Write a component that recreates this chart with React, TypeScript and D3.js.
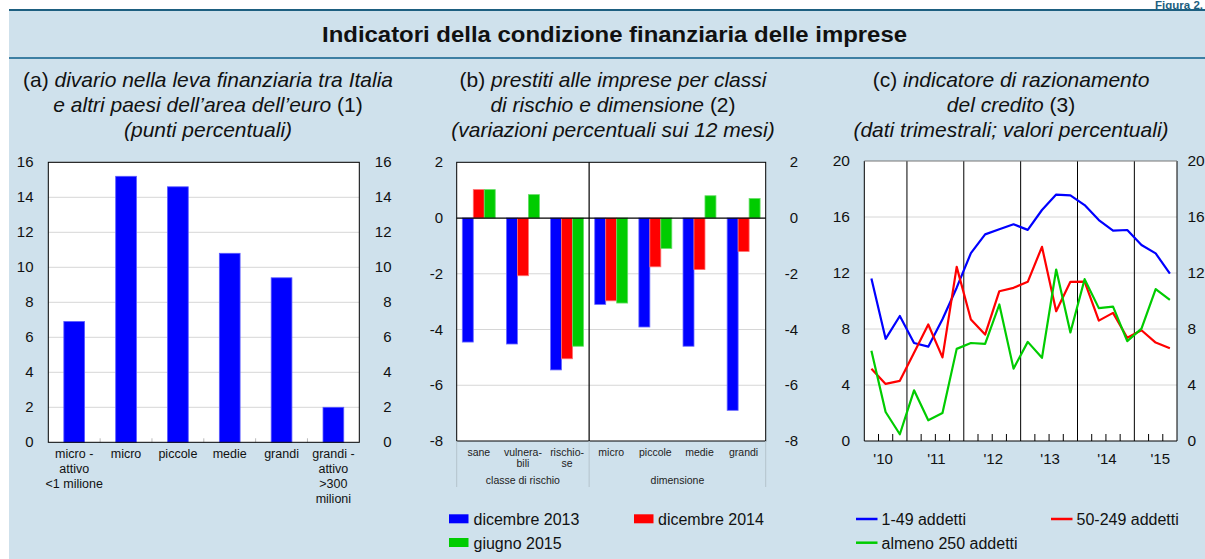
import React from 'react';
import * as d3 from 'd3';

const W = 1205;
const H = 559;
const BG = '#cfe1ec';
const FONT = '"Liberation Sans", Arial, Helvetica, sans-serif';
const BLUE = '#0000ff';
const RED = '#ff0000';
const GREEN = '#00cc00';
const GRID = '#d6d6d6';

// ---------- Panel (a) ----------
const catsA = [
  ['micro -', 'attivo', '<1 milione'],
  ['micro'],
  ['piccole'],
  ['medie'],
  ['grandi'],
  ['grandi -', 'attivo', '>300', 'milioni'],
];
const valuesA = [6.9, 15.2, 14.6, 10.8, 9.4, 2.0];
const ticksA = [0, 2, 4, 6, 8, 10, 12, 14, 16];

// ---------- Panel (b) ----------
const catsB = [['sane'], ['vulnera-', 'bili'], ['rischio-', 'se'], ['micro'], ['piccole'], ['medie'], ['grandi']];
const groupNamesB = ['classe di rischio', 'dimensione'];
const groupSizesB = [3, 4];
const seriesNamesB = ['dicembre 2013', 'dicembre 2014', 'giugno 2015'];
const dic2013 = [-4.45, -4.52, -5.45, -3.1, -3.91, -4.6, -6.9];
const dic2014 = [1.02, -2.07, -5.05, -2.97, -1.75, -1.85, -1.2];
const giu2015 = [1.02, 0.84, -4.6, -3.05, -1.09, 0.8, 0.7];
const ticksB = [2, 0, -2, -4, -6, -8];

// ---------- Panel (c) ----------
const quartersC = [
  '2010Q2', '2010Q3', '2010Q4',
  '2011Q1', '2011Q2', '2011Q3', '2011Q4',
  '2012Q1', '2012Q2', '2012Q3', '2012Q4',
  '2013Q1', '2013Q2', '2013Q3', '2013Q4',
  '2014Q1', '2014Q2', '2014Q3', '2014Q4',
  '2015Q1', '2015Q2', '2015Q3',
];
const addetti1_49 = [11.6, 7.3, 8.93, 7.0, 6.74, 8.7, 10.95, 13.42, 14.76, 15.12, 15.48, 15.08, 16.5, 17.6, 17.55, 16.85, 15.78, 15.03, 15.07, 14.0, 13.4, 11.95];
const addetti50_249 = [5.16, 4.08, 4.3, 6.3, 8.32, 5.97, 12.44, 8.68, 7.6, 10.7, 10.94, 11.37, 13.87, 9.27, 11.37, 11.39, 8.6, 9.15, 7.37, 7.91, 7.03, 6.63];
const almeno250 = [6.44, 2.07, 0.48, 3.62, 1.48, 2.0, 6.58, 7.0, 6.94, 9.75, 5.17, 7.08, 5.94, 12.25, 7.75, 11.56, 9.49, 9.6, 7.13, 8.03, 10.85, 10.08];
const seriesNamesC = ['1-49 addetti', '50-249 addetti', 'almeno 250 addetti'];
const yearsC = [2010, 2011, 2012, 2013, 2014, 2015];
const yearLabelsC = ["'10", "'11", "'12", "'13", "'14", "'15"];
const ticksC = [0, 4, 8, 12, 16, 20];

function qToNum(q: string) {
  const y = +q.slice(0, 4);
  const n = +q.slice(5);
  return y + (n - 1) * 0.25;
}

export default function App() {
  // Panel a scales
  const xA = d3.scaleBand<number>().domain(d3.range(catsA.length)).range([48.3, 359.3]).paddingInner(0.6).paddingOuter(0.3);
  const yA = d3.scaleLinear().domain([0, 16]).range([442.3, 162.3]);

  // Panel b scales
  const xB = d3.scaleBand<number>().domain(d3.range(catsB.length)).range([456.7, 765.7]).padding(0);
  const xBin = d3.scaleBand<number>().domain([0, 1, 2]).range([5.6, xB.bandwidth() - 5.6]).padding(0);
  const yB = d3.scaleLinear().domain([-8, 2]).range([441, 162.3]);
  const seriesB = [dic2013, dic2014, giu2015];
  const colorsB = [BLUE, RED, GREEN];

  // Panel c scales
  const qStart = qToNum(quartersC[0]);
  const qEnd = qToNum(quartersC[quartersC.length - 1]) + 0.25;
  const xC = d3.scaleLinear().domain([qStart, qEnd]).range([864.3, 1177]);
  const yC = d3.scaleLinear().domain([0, 20]).range([441, 161]);
  const seriesC = [addetti1_49, addetti50_249, almeno250];
  const colorsC = [BLUE, RED, GREEN];
  const lineGen = d3
    .line<number>()
    .x((_, i) => xC(qToNum(quartersC[i]) + 0.125))
    .y((d) => yC(d));
  const quarterTicks = d3.range(qStart + 0.25, qEnd - 0.01, 0.25).filter((t) => Math.abs(t - Math.round(t)) > 0.01);
  const yearLines = yearsC.filter((y) => y > qStart && y < qEnd);

  // group boundaries in panel b
  const groupBounds: number[] = [];
  let acc = 0;
  groupSizesB.forEach((s) => {
    groupBounds.push(acc);
    acc += s;
  });

  return (
    <svg width={W} height={H} style={{ position: 'absolute', left: 0, top: 0, display: 'block' }} fontFamily={FONT}>
      <rect x={0} y={0} width={W} height={H} fill="#ffffff" />
      {/* Header */}
      <text x={1203} y={8.5} textAnchor="end" fontSize={11.5} fontWeight="bold" fill="#1d5f80">Figura 2.</text>
      <rect x={9} y={9} width={W - 9} height={2} fill="#1d5f80" />
      <rect x={9} y={11} width={W - 9} height={46} fill={BG} />
      <rect x={9} y={57} width={W - 9} height={2} fill="#3d7fa3" />
      <rect x={9} y={59} width={W - 9} height={H - 59} fill={BG} />
      <text x={614.5} y={42} textAnchor="middle" fontSize={22} fontWeight="bold" fill="#111" textLength={585} lengthAdjust="spacingAndGlyphs">
        Indicatori della condizione finanziaria delle imprese
      </text>

      {/* Subtitles */}
      <g fontSize={21} fill="#111" textAnchor="middle">
        <text x={208} y={87}>
          (a) <tspan fontStyle="italic">divario nella leva finanziaria tra Italia</tspan>
        </text>
        <text x={208} y={112}>
          <tspan fontStyle="italic">e altri paesi dell’area dell’euro</tspan> (1)
        </text>
        <text x={208} y={137} fontStyle="italic">(punti percentuali)</text>

        <text x={613} y={87}>
          (b) <tspan fontStyle="italic">prestiti alle imprese per classi</tspan>
        </text>
        <text x={613} y={112}>
          <tspan fontStyle="italic">di rischio e dimensione</tspan> (2)
        </text>
        <text x={613} y={137} fontStyle="italic">(variazioni percentuali sui 12 mesi)</text>

        <text x={1011} y={87}>
          (c) <tspan fontStyle="italic">indicatore di razionamento</tspan>
        </text>
        <text x={1011} y={112}>
          <tspan fontStyle="italic">del credito</tspan> (3)
        </text>
        <text x={1011} y={137} fontStyle="italic">(dati trimestrali; valori percentuali)</text>
      </g>

      {/* ---------- Panel a ---------- */}
      <g>
        <rect x={48.3} y={162.3} width={311} height={280} fill="#fff" />
        {ticksA.filter((t) => t > 0).map((t) => (
          <line key={t} x1={48.3} x2={359.3} y1={yA(t)} y2={yA(t)} stroke={GRID} strokeWidth={1} />
        ))}
        {valuesA.map((v, i) => (
          <rect key={i} x={xA(i)!} y={yA(v)} width={xA.bandwidth()} height={yA(0) - yA(v)} fill={BLUE} stroke="#5a5aff" strokeWidth={0.8} />
        ))}
        {d3.range(1, catsA.length).map((i) => {
          const x = xA(i)! - (xA.step() - xA.bandwidth()) / 2;
          return <line key={i} x1={x} x2={x} y1={yA(0)} y2={yA(0) - 4} stroke="#bbb" />;
        })}
        <rect x={48.3} y={162.3} width={311} height={280} fill="none" stroke="#000" strokeWidth={1} />
        <g fontSize={15} fill="#111">
          {ticksA.map((t) => (
            <text key={'l' + t} x={33.5} y={yA(t) + 5} textAnchor="end">{t}</text>
          ))}
          {ticksA.map((t) => (
            <text key={'r' + t} x={391.5} y={yA(t) + 5} textAnchor="end">{t}</text>
          ))}
        </g>
        <g fontSize={12.5} fill="#111" textAnchor="middle">
          {catsA.map((lines, i) => (
            <text key={i} x={xA(i)! + xA.bandwidth() / 2} y={458}>
              {lines.map((ln, j) => (
                <tspan key={j} x={xA(i)! + xA.bandwidth() / 2} dy={j === 0 ? 0 : 15}>{ln}</tspan>
              ))}
            </text>
          ))}
        </g>
      </g>

      {/* ---------- Panel b ---------- */}
      <g>
        <rect x={456.7} y={162.3} width={309} height={278.7} fill="#fff" />
        {ticksB.filter((t) => t !== 0 && t !== 2 && t !== -8).map((t) => (
          <line key={t} x1={456.7} x2={765.7} y1={yB(t)} y2={yB(t)} stroke={GRID} />
        ))}
        {seriesB.map((vals, s) =>
          vals.map((v, i) => (
            <rect
              key={s + '-' + i}
              x={xB(i)! + xBin(s)!}
              y={yB(Math.max(0, v))}
              width={xBin.bandwidth()}
              height={Math.abs(yB(v) - yB(0))}
              fill={colorsB[s]}
              stroke={s === 0 ? '#6a6aff' : s === 1 ? '#ff7070' : '#66dd66'}
              strokeWidth={0.8}
            />
          ))
        )}
        <line x1={456.7} x2={765.7} y1={yB(0)} y2={yB(0)} stroke="#000" strokeWidth={1.2} />
        {groupBounds.slice(1).map((g) => (
          <line key={g} x1={xB(g)!} x2={xB(g)!} y1={162.3} y2={441} stroke="#000" strokeWidth={1.2} />
        ))}
        <rect x={456.7} y={162.3} width={309} height={278.7} fill="none" stroke="#000" strokeWidth={1} />
        {[...groupBounds, catsB.length].map((g) => {
          const x = g < catsB.length ? xB(g)! : 765.7;
          return <line key={'s' + g} x1={x} x2={x} y1={441} y2={487} stroke="#b4c3cc" />;
        })}
        <g fontSize={15} fill="#111">
          {ticksB.map((t) => (
            <text key={'l' + t} x={443} y={yB(t) + 5} textAnchor="end">{t}</text>
          ))}
          {ticksB.map((t) => (
            <text key={'r' + t} x={798} y={yB(t) + 5} textAnchor="end">{t}</text>
          ))}
        </g>
        <g fontSize={10.5} fill="#222" textAnchor="middle">
          {catsB.map((lines, i) => (
            <text key={i} x={xB(i)! + xB.bandwidth() / 2} y={455.5}>
              {lines.map((ln, j) => (
                <tspan key={j} x={xB(i)! + xB.bandwidth() / 2} dy={j === 0 ? 0 : 11.6}>{ln}</tspan>
              ))}
            </text>
          ))}
          {groupNamesB.map((g, k) => {
            const x0 = xB(groupBounds[k])!;
            const x1 = x0 + groupSizesB[k] * xB.step();
            return (
              <text key={g} x={(x0 + x1) / 2} y={484}>{g}</text>
            );
          })}
        </g>
      </g>

      {/* ---------- Panel c ---------- */}
      <g>
        <rect x={864.3} y={161} width={312.7} height={280} fill="#fff" />
        {ticksC.filter((t) => t > 0 && t < 20).map((t) => (
          <line key={t} x1={864.3} x2={1177} y1={yC(t)} y2={yC(t)} stroke={GRID} />
        ))}
        {yearLines.map((y) => (
          <line key={y} x1={xC(y)} x2={xC(y)} y1={161} y2={441} stroke="#000" strokeWidth={1} />
        ))}
        {quarterTicks.map((t) => (
          <line key={t} x1={xC(t)} x2={xC(t)} y1={441} y2={434} stroke="#000" strokeWidth={1} />
        ))}
        {seriesC.map((vals, s) => (
          <path key={s} d={lineGen(vals) || ''} fill="none" stroke={colorsC[s]} strokeWidth={2.2} strokeLinejoin="round" />
        ))}
        <line x1={864.3} x2={864.3} y1={161} y2={441} stroke="#000" />
        <line x1={1177} x2={1177} y1={161} y2={441} stroke="#000" />
        <line x1={864.3} x2={1177} y1={441} y2={441} stroke="#000" />
        <line x1={864.3} x2={1177} y1={161} y2={161} stroke="#777" />
        <g fontSize={15.5} fill="#111">
          {ticksC.map((t) => (
            <text key={'l' + t} x={850} y={yC(t) + 5} textAnchor="end">{t}</text>
          ))}
          {ticksC.map((t) => (
            <text key={'r' + t} x={1187.5} y={yC(t) + 5}>{t}</text>
          ))}
        </g>
        <g fontSize={15} fill="#111" textAnchor="middle">
          {yearsC.map((y, i) => {
            const lo = Math.max(y, qStart);
            const hi = Math.min(y + 1, qEnd);
            const c = ((lo + hi) / 2 + (y + 0.5)) / 2;
            return (
              <text key={y} x={xC(c) + 1} y={464}>{yearLabelsC[i]}</text>
            );
          })}
        </g>
      </g>

      {/* ---------- Legends ---------- */}
      <g fontSize={16} fill="#111">
        <rect x={449} y={514.3} width={19.5} height={9} fill={BLUE} />
        <text x={473.5} y={524.5}>{seriesNamesB[0]}</text>
        <rect x={634} y={514.3} width={19.5} height={9} fill={RED} />
        <text x={658} y={524.5}>{seriesNamesB[1]}</text>
        <rect x={449} y={538} width={19.5} height={9} fill={GREEN} />
        <text x={473.5} y={548.5}>{seriesNamesB[2]}</text>

        <line x1={856} x2={877.5} y1={519} y2={519} stroke={BLUE} strokeWidth={2.5} />
        <text x={881.5} y={524.5}>{seriesNamesC[0]}</text>
        <line x1={1051} x2={1072.5} y1={519} y2={519} stroke={RED} strokeWidth={2.5} />
        <text x={1076.5} y={524.5}>{seriesNamesC[1]}</text>
        <line x1={856} x2={877.5} y1={542.7} y2={542.7} stroke={GREEN} strokeWidth={2.5} />
        <text x={881.5} y={548.5}>{seriesNamesC[2]}</text>
      </g>
    </svg>
  );
}
